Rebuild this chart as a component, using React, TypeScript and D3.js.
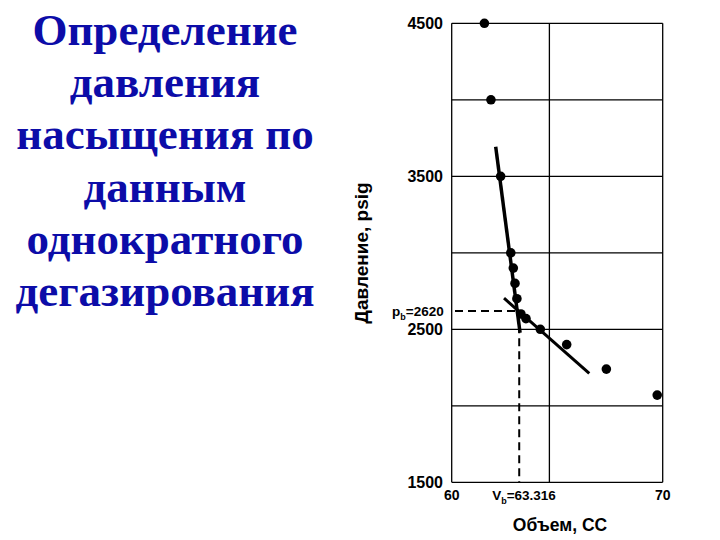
import React from "react";
import * as d3 from "d3";

const titleLines = [
  "Определение",
  "давления",
  "насыщения по",
  "данным",
  "однократного",
  "дегазирования",
];

const volume = [61.55, 61.86, 62.32, 62.8, 62.92, 63.0, 63.09, 63.28, 63.52, 64.2, 65.45, 67.33, 69.74];
const pressure = [4500, 4000, 3500, 3000, 2900, 2800, 2700, 2600, 2570, 2500, 2400, 2240, 2070];

const steepLineX = [62.085, 63.24];
const steepLineY = [3693, 2478];
const shallowLineX = [62.48, 66.52];
const shallowLineY = [2703, 2212];

const yGrid = [1500, 2000, 2500, 3000, 3500, 4000, 4500];
const yTickLabels = [4500, 3500, 2500, 1500];
const xGrid = [60, 64.63, 70];
const xTickLabels = [60, 70];

const pb = 2620;
const vbPos = 63.2;
const pbText = "2620";
const vbText = "63.316";

const yAxisTitle = "Давление, psig";
const xAxisTitle = "Объем, CC";

export default function App() {
  const x = d3.scaleLinear().domain([60, 70]).range([451.7, 662.7]);
  const y = d3.scaleLinear().domain([1500, 4500]).range([482.3, 23.3]);
  const line = d3
    .line<[number, number]>()
    .x((d) => x(d[0]))
    .y((d) => y(d[1]));
  const steep: [number, number][] = steepLineX.map((v, i) => [v, steepLineY[i]]);
  const shallow: [number, number][] = shallowLineX.map((v, i) => [v, shallowLineY[i]]);
  const axisFont = "Liberation Sans, Arial, sans-serif";

  return (
    <svg
      width={720}
      height={540}
      style={{ position: "absolute", left: 0, top: 0, background: "#fff" }}
    >
      {titleLines.map((t, i) => (
        <text
          key={i}
          x={165}
          y={45 + i * 52.2}
          textAnchor="middle"
          fontFamily="Liberation Serif, Times New Roman, serif"
          fontWeight="bold"
          fontSize={45}
          fill="#0c0ca8"
        >
          {t}
        </text>
      ))}

      {yGrid.map((v) => (
        <line key={"yg" + v} x1={x(60)} x2={x(70)} y1={y(v)} y2={y(v)} stroke="#000" strokeWidth={1.3} />
      ))}
      {xGrid.map((v) => (
        <line key={"xg" + v} x1={x(v)} x2={x(v)} y1={y(1500)} y2={y(4500)} stroke="#000" strokeWidth={1.3} />
      ))}

      {yTickLabels.map((v) => (
        <text
          key={"yt" + v}
          x={443}
          y={y(v)}
          dy="0.36em"
          textAnchor="end"
          fontFamily={axisFont}
          fontWeight="bold"
          fontSize={16}
        >
          {v}
        </text>
      ))}
      {xTickLabels.map((v) => (
        <text
          key={"xt" + v}
          x={x(v)}
          y={500}
          textAnchor="middle"
          fontFamily={axisFont}
          fontWeight="bold"
          fontSize={14}
        >
          {v}
        </text>
      ))}

      <line x1={455} x2={x(vbPos) - 3} y1={y(pb)} y2={y(pb)} stroke="#000" strokeWidth={2} strokeDasharray="8,5" />
      <line x1={x(vbPos)} x2={x(vbPos)} y1={y(2500) - 4} y2={y(1500)} stroke="#000" strokeWidth={2} strokeDasharray="8,5" />

      <path d={line(steep) || ""} stroke="#000" strokeWidth={3.5} fill="none" />
      <path d={line(shallow) || ""} stroke="#000" strokeWidth={3} fill="none" />

      {volume.map((v, i) => (
        <circle key={"p" + i} cx={x(v)} cy={y(pressure[i])} r={4.8} fill="#000" />
      ))}

      <text x={392} y={y(pb)} dy="0.36em" fontFamily={axisFont} fontWeight="bold" fontSize={13.5}>
        p<tspan fontSize={9} dy={4}>b</tspan>
        <tspan dy={-4}>={pbText}</tspan>
      </text>
      <text x={524} y={500} textAnchor="middle" fontFamily={axisFont} fontWeight="bold" fontSize={13.5}>
        V<tspan fontSize={9} dy={4}>b</tspan>
        <tspan dy={-4}>={vbText}</tspan>
      </text>

      <text
        x={560}
        y={531}
        textAnchor="middle"
        fontFamily={axisFont}
        fontWeight="bold"
        fontSize={17.5}
      >
        {xAxisTitle}
      </text>
      <text
        transform="translate(368,253) rotate(-90)"
        textAnchor="middle"
        fontFamily={axisFont}
        fontWeight="bold"
        fontSize={19}
      >
        {yAxisTitle}
      </text>
    </svg>
  );
}
